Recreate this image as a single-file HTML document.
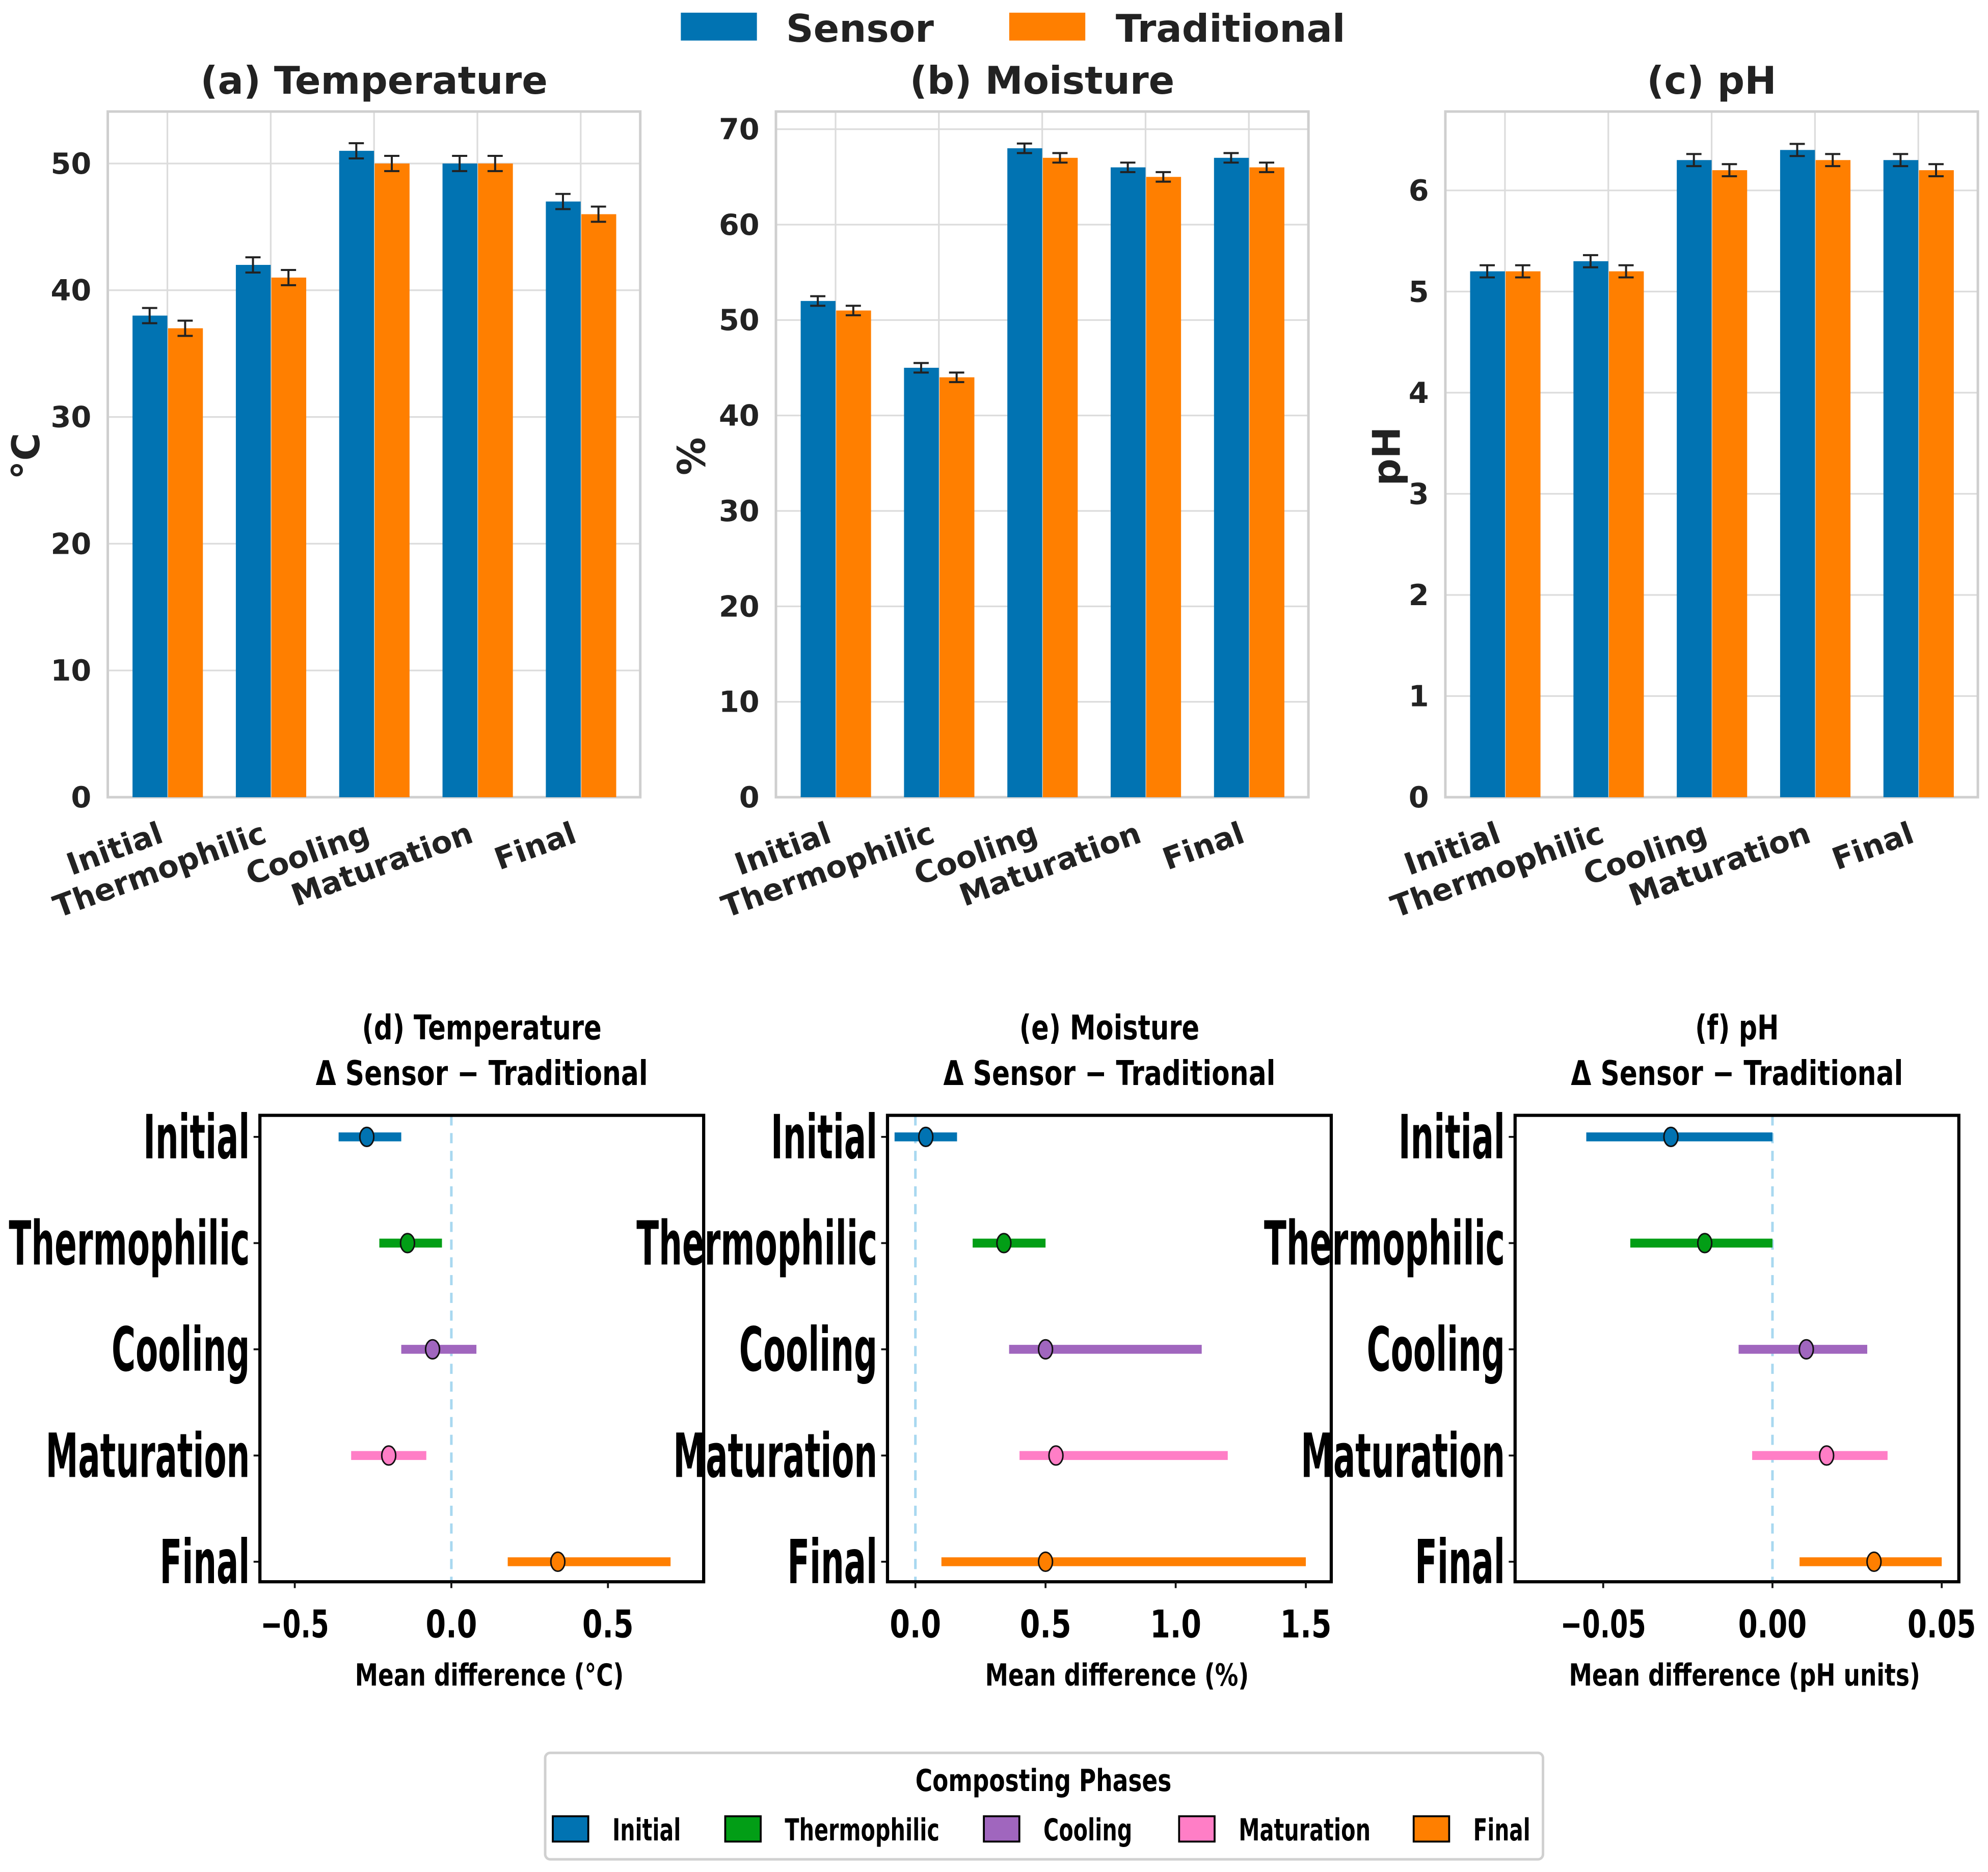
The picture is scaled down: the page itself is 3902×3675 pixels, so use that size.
<!DOCTYPE html>
<html><head><meta charset="utf-8"><style>
html,body{margin:0;padding:0;background:#fff;}
svg{display:block;}
text{font-family:"DejaVu Sans","Liberation Sans",sans-serif;font-weight:bold;}
</style></head><body>
<svg id="fig" xmlns="http://www.w3.org/2000/svg" width="3902" height="3675" viewBox="0 0 1568 1477" preserveAspectRatio="none"></svg>
<script>
const phases = ["Initial","Thermophilic","Cooling","Maturation","Final"];
const tempSensor = [38,42,51,50,47];
const tempTrad = [37,41,50,50,46];
const tempErr = [0.6,0.6,0.6,0.6,0.6];
const moistSensor = [52,45,68,66,67];
const moistTrad = [51,44,67,65,66];
const moistErr = [0.5,0.5,0.5,0.5,0.5];
const phSensor = [5.2,5.3,6.3,6.4,6.3];
const phTrad = [5.2,5.2,6.2,6.3,6.2];
const phErr = [0.06,0.06,0.06,0.06,0.06];
const tempTicks = [0,10,20,30,40,50];
const moistTicks = [0,10,20,30,40,50,60,70];
const phTicks = [0,1,2,3,4,5,6];
const dTempMean = [-0.27,-0.14,-0.06,-0.20,0.34];
const dTempLo = [-0.36,-0.23,-0.16,-0.32,0.18];
const dTempHi = [-0.16,-0.03,0.08,-0.08,0.70];
const dMoistMean = [0.04,0.34,0.50,0.54,0.50];
const dMoistLo = [-0.08,0.22,0.36,0.40,0.10];
const dMoistHi = [0.16,0.50,1.10,1.20,1.50];
const dPhMean = [-0.030,-0.020,0.010,0.016,0.030];
const dPhLo = [-0.055,-0.042,-0.010,-0.006,0.008];
const dPhHi = [0.000,0.000,0.028,0.034,0.050];
const dTempTicks = ["−0.5","0.0","0.5"];
const dTempTickVals = [-0.5,0,0.5];
const dMoistTicks = ["0.0","0.5","1.0","1.5"];
const dMoistTickVals = [0,0.5,1.0,1.5];
const dPhTicks = ["−0.05","0.00","0.05"];
const dPhTickVals = [-0.05,0,0.05];

const NS="http://www.w3.org/2000/svg";
const svg=document.getElementById('fig');
function mk(tag,at,parent){const e=document.createElementNS(NS,tag);for(const k in at)e.setAttribute(k,at[k]);(parent||svg).appendChild(e);return e;}
const BLUE="#0173b2",ORANGE="#ff7f00";
const phaseColors=["#0173b2","#029e16","#a066be","#ff7ec6","#ff7f00"];

let e;
e=mk('rect',{x:537,y:10,width:60,height:22,fill:BLUE});


e=mk('text',{x:620,y:33,'font-size':30,fill:'#222'});e.textContent='Sensor';


e=mk('rect',{x:796,y:10,width:60,height:22,fill:ORANGE});


e=mk('text',{x:880,y:33,'font-size':30,fill:'#222'});e.textContent='Traditional';



function barPanel(id,x0,title,ylabel,ymax,ticks,S,T,E,ylx,tickFmt){
  const L=x0,R=x0+420,Tp=88,B=629;
  const g=mk('g',{});
  
  
  const ys=v=>B-(B-Tp)*v/ymax;
  const xs=i=>L+(i+0.577)*81.5;
  ticks.forEach(t=>{
    const l=mk('line',{x1:L,x2:R,y1:ys(t),y2:ys(t),stroke:'#dcdcdc','stroke-width':1.3},g);
    
    
    const tx=mk('text',{x:L-13,y:ys(t)+8,'font-size':23,'text-anchor':'end',fill:'#222'},g);
    tx.textContent=tickFmt(t);
    
    
  });
  phases.forEach((p,i)=>{
    const l=mk('line',{x1:xs(i),x2:xs(i),y1:Tp,y2:B,stroke:'#dcdcdc','stroke-width':1.3},g);
    
    
  });
  mk('rect',{x:L,y:Tp,width:420,height:B-Tp,fill:'none',stroke:'#cfcfcf','stroke-width':2},g);
  phases.forEach((p,i)=>{
    const c=xs(i);
    [[S[i],c-28,BLUE,'sensor'],[T[i],c,ORANGE,'traditional']].forEach(([v,bx,col,nm])=>{
      const r=mk('rect',{x:bx+0.5,y:ys(v),width:27.5,height:B-ys(v),fill:col},g);
      
      
      const cx=bx+14;
      const eb=mk('path',{d:`M${cx},${ys(v+E[i])}V${ys(v-E[i])}M${cx-6},${ys(v+E[i])}H${cx+6}M${cx-6},${ys(v-E[i])}H${cx+6}`,stroke:'#222','stroke-width':1.6,fill:'none'},g);
      
      
    });
    const tx=mk('text',{'font-size':24,'text-anchor':'end',fill:'#222',transform:`translate(${c-2},${664}) rotate(-20)`},g);
    tx.textContent=p;
    
    
  });
  const tt=mk('text',{x:(L+R)/2,y:74,'font-size':30,'text-anchor':'middle',fill:'#222'},g);
  tt.textContent=title;
  
  
  const yl=mk('text',{'font-size':30,'text-anchor':'middle',fill:'#222',transform:`translate(${ylx},360) rotate(-90)`},g);
  yl.textContent=ylabel;
  
  
}
barPanel('temperature',85,'(a) Temperature','°C',54.1,tempTicks,tempSensor,tempTrad,tempErr,31,t=>String(t));
barPanel('moisture',612,'(b) Moisture','%',71.85,moistTicks,moistSensor,moistTrad,moistErr,556,t=>String(t));
barPanel('ph',1140,'(c) pH','pH',6.78,phTicks,phSensor,phTrad,phErr,1104,t=>String(t));

const ylw={"Initial":84,"Thermophilic":190,"Cooling":109,"Maturation":161,"Final":71};
function diffPanel(id,L,t1,xl,xlw,zeroX,pxPer,ticks,tickVals,M,Lo,Hi,t1w){
  const R=L+350,Tp=880,B=1248;
  const g=mk('g',{});
  
  
  const xs=v=>zeroX+v*pxPer;
  const ys=i=>897+i*83.8;
  const z=mk('line',{x1:xs(0),x2:xs(0),y1:Tp,y2:B,stroke:'#a8d8f0','stroke-width':2,'stroke-dasharray':'8,6'},g);
  
  
  phases.forEach((p,i)=>{
    const y=ys(i);
    const ln=mk('line',{x1:xs(Lo[i]),x2:xs(Hi[i]),y1:y,y2:y,stroke:phaseColors[i],'stroke-width':7},g);
    
    
    const mp=mk('ellipse',{cx:xs(M[i]),cy:y,rx:5.5,ry:7.5,fill:phaseColors[i],stroke:'#111','stroke-width':1.2},g);
    
    
    mk('line',{x1:L-5,x2:L,y1:y,y2:y,stroke:'#111','stroke-width':1.5},g);
    const tx=mk('text',{x:L-8,y:y+17,'font-size':48,'text-anchor':'end',fill:'#000',textLength:ylw[p],lengthAdjust:'spacingAndGlyphs'},g);
    tx.textContent=p;
    
    
  });
  mk('rect',{x:L,y:Tp,width:350,height:B-Tp,fill:'none',stroke:'#000','stroke-width':2.5},g);
  ticks.forEach((t,k)=>{
    const x=xs(tickVals[k]);
    mk('line',{x1:x,x2:x,y1:B,y2:B+5,stroke:'#111','stroke-width':1.5},g);
    const tx=mk('text',{x:x,y:1292,'font-size':30,'text-anchor':'middle',fill:'#000',textLength:t.length*13.5,lengthAdjust:'spacingAndGlyphs'},g);
    tx.textContent=t;
    
    
  });
  const c=(L+R)/2;
  const a=mk('text',{x:c,y:820,'font-size':27,'text-anchor':'middle',fill:'#000',textLength:t1w,lengthAdjust:'spacingAndGlyphs'},g);
  a.textContent=t1;
  
  
  const b=mk('text',{x:c,y:856,'font-size':27,'text-anchor':'middle',fill:'#000',textLength:262,lengthAdjust:'spacingAndGlyphs'},g);
  b.textContent='Δ Sensor − Traditional';
  
  
  const x=mk('text',{x:c+6,y:1330,'font-size':24,'text-anchor':'middle',fill:'#000',textLength:xlw,lengthAdjust:'spacingAndGlyphs'},g);
  x.textContent=xl;
  
  
}
diffPanel('temperature',205,'(d) Temperature','Mean difference (°C)',212,356,247,dTempTicks,dTempTickVals,dTempMean,dTempLo,dTempHi,189);
diffPanel('moisture',700,'(e) Moisture','Mean difference (%)',208,722,205.3,dMoistTicks,dMoistTickVals,dMoistMean,dMoistLo,dMoistHi,142);
diffPanel('ph',1195,'(f) pH','Mean difference (pH units)',277,1398,2670,dPhTicks,dPhTickVals,dPhMean,dPhLo,dPhHi,66);

const lg=mk('g',{});


mk('rect',{x:430,y:1383,width:787,height:84,rx:4,fill:'#fff',stroke:'#d0d0d0','stroke-width':2},lg);
e=mk('text',{x:823,y:1413,'font-size':24,'text-anchor':'middle',fill:'#000',textLength:202,lengthAdjust:'spacingAndGlyphs'},lg);
e.textContent='Composting Phases';


const lgx=[436,572,776,930,1115];
const lgw=[54,122,70,104,45];
phases.forEach((p,i)=>{
  const r=mk('rect',{x:lgx[i],y:1433,width:28,height:20,fill:phaseColors[i],stroke:'#000','stroke-width':1.5},lg);
  
  
  const t=mk('text',{x:lgx[i]+47,y:1452,'font-size':24,fill:'#000',textLength:lgw[i],lengthAdjust:'spacingAndGlyphs'},lg);
  t.textContent=p;
  
  
});
</script>
</body></html>
